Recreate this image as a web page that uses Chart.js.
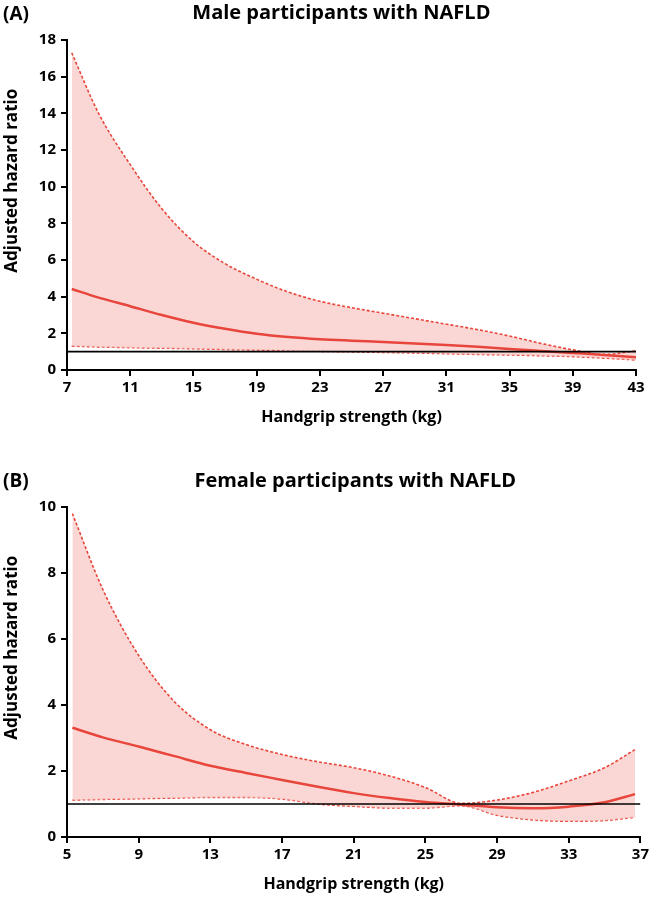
<!DOCTYPE html>
<html>
<head>
<meta charset="utf-8">
<script src="https://cdn.jsdelivr.net/npm/chart.js@4"></script>
<style>
  body { margin: 0; background: #fff; width: 652px; height: 902px; position: relative; overflow: hidden; }
  .panel { position: absolute; left: 0; width: 652px; }
  .tag { position: absolute; left: 3px; font: bold 19px "Open Sans", sans-serif; color: #000; }
</style>
</head>
<body>
<div class="panel" style="top:0;height:435px"><canvas id="male"></canvas></div>
<div class="tag" style="top:0px">(A)</div>
<div class="panel" style="top:435px;height:467px"><canvas id="female"></canvas></div>
<div class="tag" style="top:467px">(B)</div>
<script>
const FONT = '"Open Sans", sans-serif'
const RED = '#e8463c'
const BAND = 'rgba(248, 200, 196, 0.72)'

// Male participants (panel A)
const maleStrength = [7.3, 9, 11, 13, 15, 17, 19, 21, 23, 25, 27, 29, 31, 33, 35, 37, 39, 41, 43]
const maleHR = [4.42, 3.95, 3.48, 3.0, 2.58, 2.25, 1.98, 1.8, 1.68, 1.6, 1.53, 1.45, 1.37, 1.27, 1.15, 1.04, 0.93, 0.82, 0.7]
const maleUpper = [17.3, 14.0, 11.2, 8.8, 7.0, 5.8, 4.95, 4.25, 3.75, 3.4, 3.1, 2.8, 2.5, 2.2, 1.85, 1.45, 1.1, 0.85, 1.05]
const maleLower = [1.3, 1.26, 1.22, 1.19, 1.16, 1.12, 1.09, 1.05, 1.02, 0.99, 0.96, 0.93, 0.89, 0.85, 0.82, 0.78, 0.73, 0.65, 0.55]
const maleXTicks = [7, 43, 4]
const maleYTicks = [0, 18, 2]

// Female participants (panel B)
const femaleStrength = [5.3, 7, 9, 11, 13, 15, 17, 19, 21, 23, 25, 27, 29, 31, 33, 35, 36.7]
const femaleHR = [3.31, 3.02, 2.74, 2.45, 2.16, 1.94, 1.73, 1.52, 1.33, 1.18, 1.06, 0.98, 0.9, 0.87, 0.92, 1.05, 1.3]
const femaleUpper = [9.8, 7.5, 5.5, 4.1, 3.25, 2.8, 2.5, 2.28, 2.1, 1.85, 1.5, 1.02, 1.12, 1.35, 1.7, 2.1, 2.65]
const femaleLower = [1.12, 1.14, 1.16, 1.18, 1.2, 1.2, 1.15, 1.0, 0.93, 0.88, 0.88, 0.95, 0.66, 0.52, 0.48, 0.5, 0.6]
const femaleXTicks = [5, 37, 4]
const femaleYTicks = [0, 10, 2]

const referenceHR = 1

const pts = (xs, ys) => xs.map((x, i) => ({ x, y: ys[i] }))

// leading spaces nudge the centred texts to where the original puts them
const pad = n => ' '.repeat(n)
const yLabel = pad(11) + 'Adjusted hazard ratio'

function makeChart(id, title, xs, hr, upper, lower, xt, yt, lay) {
  const ctx = document.getElementById(id).getContext('2d')
  const axisLine = { display: true, color: '#000', width: 2 }
  const tickGrid = { drawOnChartArea: false, drawTicks: true, tickLength: 6, color: '#000', lineWidth: 2 }
  const tickFont = { family: FONT, size: 15, weight: 'bold' }
  const line = { pointRadius: 0, cubicInterpolationMode: 'monotone', borderColor: RED }
  return new Chart(ctx, {
    type: 'line',
    data: {
      datasets: [
        { ...line, data: pts(xs, hr), borderWidth: 2.5, fill: false, order: 1 },
        { ...line, data: pts(xs, upper), borderWidth: 1.6, borderDash: [3, 2], backgroundColor: BAND, fill: '+1', order: 2 },
        { ...line, data: pts(xs, lower), borderWidth: 1.6, borderDash: [3, 2], fill: false, order: 2 },
        {
          data: [{ x: xt[0], y: referenceHR }, { x: xt[1], y: referenceHR }],
          borderColor: '#000',
          borderWidth: 1.6,
          pointRadius: 0,
          fill: false,
          order: 0,
        },
      ],
    },
    options: {
      responsive: true,
      maintainAspectRatio: false,
      animation: false,
      layout: { padding: { left: 0, right: lay.right, top: 0, bottom: 0 } },
      plugins: {
        legend: { display: false },
        tooltip: { enabled: false },
        title: {
          display: true,
          text: pad(lay.titleShift) + title,
          color: '#000',
          font: { family: FONT, size: 20, weight: 'bold', lineHeight: 1.2 },
          padding: { top: lay.titleTop, bottom: lay.titleBottom },
        },
      },
      scales: {
        x: {
          type: 'linear',
          min: xt[0],
          max: xt[1],
          ticks: { stepSize: xt[2], color: '#000', font: tickFont, padding: 3, maxRotation: 0 },
          grid: tickGrid,
          border: axisLine,
          title: {
            display: true,
            text: 'Handgrip strength (kg)',
            color: '#000',
            font: { family: FONT, size: 16, weight: 'bold' },
            padding: { top: 0, bottom: 8 },
          },
          afterFit: s => { s.height = 65 },
        },
        y: {
          min: yt[0],
          max: yt[1],
          ticks: { stepSize: yt[2], color: '#000', font: tickFont, padding: 5 },
          grid: tickGrid,
          border: axisLine,
          title: {
            display: true,
            text: yLabel,
            color: '#000',
            font: { family: FONT, size: 17, weight: 'bold' },
            padding: { top: 2, bottom: 0 },
          },
          afterFit: s => { s.width = 67 },
        },
      },
    },
  })
}

makeChart('male', 'Male participants with NAFLD', maleStrength, maleHR, maleUpper, maleLower,
  maleXTicks, maleYTicks, { right: 16, titleTop: 1.5, titleBottom: 14.5, titleShift: 9 })
makeChart('female', 'Female participants with NAFLD', femaleStrength, femaleHR, femaleUpper, femaleLower,
  femaleXTicks, femaleYTicks, { right: 9, titleTop: 34.5, titleBottom: 13.5, titleShift: 13 })
</script>
</body>
</html>
